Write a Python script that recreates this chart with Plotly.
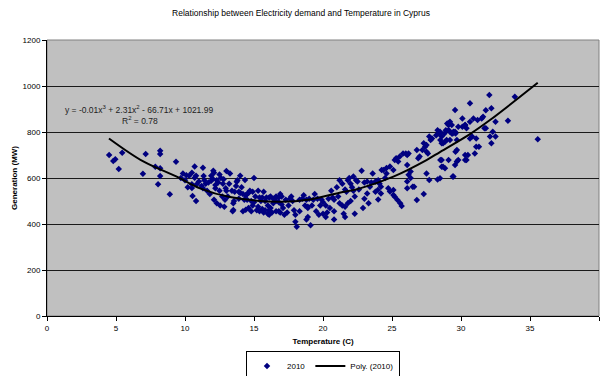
import plotly.graph_objects as go

# Scatter data (temperature in C, generation in MW)
temp_c = [
    4.5, 4.8, 4.95, 5.2, 5.45, 6.95, 7.15, 7.85, 8.2, 8.2, 8.2, 8.2, 8.05, 8.9, 9.35,
    9.85, 10.1, 10.3, 10.5, 10.7, 10.8, 10.5, 10.5, 10.55, 10.7, 10.85, 10.8, 11.3, 11.35, 11.2,
    11.3, 12.05, 12.1, 12.0, 11.5, 11.7, 11.9, 12.2, 12.3, 11.8, 12.1, 12.3, 12.55, 12.85, 12.4,
    12.6, 12.75, 12.95, 13.0, 11.0, 11.6, 12.5, 12.7, 12.2, 12.9, 11.4, 10.2, 10.0, 9.7, 11.9,
    12.5, 12.8,
    13.26, 13.75, 13.8, 14.35, 13.4, 13.6, 13.9, 14.0, 14.2, 13.5, 13.55, 13.5, 13.45, 14.5, 14.6,
    14.7, 14.4, 14.2, 14.4, 14.6, 14.8, 14.9, 15.1, 15.4, 15.6, 15.7, 15.9, 16.1, 16.2, 16.4,
    16.6, 16.8, 17.0, 15.2, 15.3, 15.4, 15.6, 15.7, 15.8, 16.0, 16.1, 16.2, 16.0, 16.1, 16.3,
    16.6, 16.8, 16.9, 17.2, 16.6, 16.8, 17.0, 13.2, 13.7, 14.1, 14.5, 14.8, 15.0, 15.5, 13.9,
    14.3, 13.1, 13.0, 14.9, 15.3, 15.8, 16.4, 16.9, 15.0, 14.0,
    18.1, 18.3, 18.5, 18.8, 19.0, 19.3, 18.7, 18.9, 19.2, 18.9, 18.8, 18.9, 19.6, 19.9, 20.0,
    19.8, 20.2, 20.4, 20.7, 20.8, 20.0, 20.3, 20.2, 20.8, 20.8, 21.6, 21.5, 22.3, 17.3, 17.6,
    17.8, 17.5, 17.9, 18.0, 17.4, 18.3, 19.5, 19.7, 20.5, 17.7, 18.6, 19.4, 20.6, 17.1, 19.1,
    18.0,
    21.0, 21.2, 21.4, 21.6, 21.7, 21.8, 21.9, 22.0, 22.1, 22.2, 22.3, 22.4, 22.5, 22.2, 21.2,
    21.4, 21.6, 21.8, 22.0, 22.8, 23.0, 23.2, 23.5, 23.8, 24.0, 24.1, 23.2, 23.4, 23.6, 23.97,
    24.2, 24.37, 24.6, 24.0, 24.2, 24.73, 24.85, 25.1, 25.1, 25.2, 25.4, 25.6, 25.7, 22.6, 23.0,
    22.9, 23.3, 21.1, 24.5, 23.8,
    24.25, 24.6, 24.85, 25.1, 25.2, 25.3, 25.45, 25.56, 25.8, 26.0, 26.1, 26.2, 26.1, 26.2, 26.35,
    26.5, 26.6, 26.1, 26.35, 26.1, 26.8, 27.3, 26.8, 26.9, 27.0, 27.2, 27.3, 27.4, 27.5, 27.5,
    27.6, 27.7, 27.8, 27.9, 28.2, 28.3, 28.4, 28.5, 28.6, 28.8, 28.9, 29.0, 29.1, 29.2, 29.4,
    29.6, 29.8, 30.1, 30.3, 27.5, 27.7, 28.3, 28.5, 28.6, 29.1, 29.4, 29.6, 29.7, 30.3, 30.3,
    28.48, 28.6, 28.7, 28.84, 28.96, 29.1, 29.2, 29.33, 29.45, 29.57, 29.7, 29.1, 29.2, 29.33, 29.7,
    29.8, 29.57, 30.4, 30.5, 31.0, 31.1, 28.6, 28.7, 28.84, 29.45, 28.48, 30.1, 30.3, 30.4, 30.65,
    30.9, 31.2, 31.5, 31.6, 31.8, 32.2, 32.5, 33.4, 30.65, 30.8, 31.1, 31.7, 31.8, 32.1, 32.3,
    32.5, 32.2, 31.3, 29.57, 30.65, 32.05, 33.9, 35.56,
]
gen_mw = [
    700, 674, 681, 639, 710, 619, 704, 649, 719, 704, 642, 609, 573, 529, 671,
    620, 612, 610, 623, 650, 610, 573, 556, 522, 601, 573, 500, 645, 609, 565,
    555, 632, 623, 597, 575, 580, 588, 570, 590, 530, 505, 490, 480, 475, 580,
    600, 575, 555, 630, 585, 545, 545, 520, 555, 505, 590, 560, 590, 600, 610,
    615, 595,
    620, 584, 590, 591, 545, 540, 540, 535, 530, 490, 500, 461, 455, 530, 535,
    545, 525, 455, 462, 470, 455, 480, 520, 515, 515, 540, 515, 515, 520, 510,
    520, 515, 520, 460, 475, 455, 465, 450, 460, 480, 460, 470, 445, 440, 450,
    455, 455, 450, 440, 500, 495, 485, 575, 565, 560, 505, 500, 495, 500, 510,
    505, 520, 545, 540, 545, 500, 490, 530, 600, 610,
    388, 505, 510, 505, 510, 505, 480, 475, 480, 470, 420, 430, 510, 505, 495,
    480, 480, 510, 515, 505, 445, 450, 430, 455, 420, 430, 445, 445, 505, 510,
    500, 480, 460, 440, 450, 455, 455, 440, 470, 520, 525, 530, 545, 470, 395,
    410,
    560, 590, 575, 550, 540, 590, 600, 575, 560, 545, 520, 590, 585, 606, 490,
    480, 475, 490, 500, 632, 580, 585, 580, 585, 590, 575, 533, 562, 620, 548,
    562, 635, 620, 507, 533, 555, 541, 548, 526, 519, 504, 490, 478, 550, 510,
    470, 490, 520, 600, 540,
    635, 643, 650, 635, 678, 686, 672, 693, 707, 707, 700, 707, 657, 614, 628,
    562, 562, 585, 600, 555, 504, 530, 722, 686, 693, 722, 751, 736, 743, 714,
    707, 780, 765, 772, 786, 808, 794, 765, 751, 794, 808, 837, 830, 765, 794,
    794, 823, 823, 830, 620, 591, 594, 678, 649, 678, 606, 714, 672, 700, 678,
    801, 780, 751, 758, 765, 809, 801, 794, 801, 801, 765, 837, 845, 830, 722,
    678, 656, 678, 700, 707, 736, 678, 649, 642, 606, 599, 859, 830, 816, 845,
    859, 852, 859, 866, 895, 903, 845, 849, 772, 780, 772, 816, 816, 780, 801,
    780, 751, 736, 896, 925, 961, 953, 768,
]

# Polynomial trend line, sampled from the chart
trend_temp = [4.49, 6.98, 9.4, 11.09, 13.26, 16.88, 19.06, 21.2, 22.68, 25.1, 27.5, 28.5, 30.65, 32.1, 35.56]
trend_mw = [772, 672, 606, 555, 517, 497, 507, 536, 555, 606, 678, 714, 791, 852, 1014]

x_ticks = [0, 5, 10, 15, 20, 25, 30, 35, 40]
y_ticks = [0, 200, 400, 600, 800, 1000, 1200]

title_text = "Relationship between Electricity demand and Temperature in Cyprus"
eq_text = "y = -0.01x<sup>3</sup> + 2.31x<sup>2</sup> - 66.71x + 1021.99"
r2_text = "R<sup>2</sup> = 0.78"

FONT = "Liberation Sans, Arial, sans-serif"

fig = go.Figure()
fig.add_trace(go.Scatter(
    x=temp_c, y=gen_mw, mode="markers", name="2010",
    marker=dict(symbol="diamond", size=5, color="#000080", line=dict(width=0)),
))
fig.add_trace(go.Scatter(
    x=trend_temp, y=trend_mw, mode="lines", name="Poly. (2010)",
    line=dict(color="black", width=2, shape="spline"),
))

fig.add_annotation(x=6.67, y=900, xref="x", yref="y", text=eq_text, showarrow=False,
                   font=dict(family=FONT, size=8.5, color="#222222"))
fig.add_annotation(x=6.75, y=850, xref="x", yref="y", text=r2_text, showarrow=False,
                   font=dict(family=FONT, size=8.5, color="#222222"))

fig.add_shape(type="rect", xref="paper", yref="paper", x0=0, x1=1, y0=0, y1=1,
              line=dict(color="#808080", width=1), layer="below")

fig.update_layout(
    width=602, height=376,
    margin=dict(l=47, r=3, t=40, b=60, autoexpand=False),
    paper_bgcolor="white", plot_bgcolor="#C0C0C0",
    font=dict(family=FONT, size=8, color="black"),
    title=dict(text=title_text, x=0.5, xanchor="center", y=1 - 13 / 376, yanchor="middle",
               font=dict(family=FONT, size=8.5, color="black")),
    showlegend=True,
    legend=dict(orientation="h", x=0.5, xanchor="center", y=-0.125, yanchor="top",
                bgcolor="white", bordercolor="black", borderwidth=1,
                font=dict(family=FONT, size=8), itemwidth=30, tracegroupgap=0),
    xaxis=dict(range=[0, 40], tickvals=x_ticks, showgrid=False, zeroline=False, automargin=False,
               showline=True, linecolor="black", linewidth=1, ticks="outside", ticklen=4,
               tickcolor="black", tickfont=dict(size=8),
               title=dict(text="<b>Temperature (C)</b>", standoff=6, font=dict(size=8))),
    yaxis=dict(range=[0, 1200], tickvals=y_ticks, showgrid=True, gridcolor="#1a1a1a", gridwidth=1,
               zeroline=False, showline=True, linecolor="black", linewidth=1, automargin=False,
               ticks="outside", ticklen=4, tickcolor="black", tickfont=dict(size=8),
               title=dict(text="<b>Generation (MW)</b>", standoff=3, font=dict(size=8))),
)

fig.write_html("out.html", config={"displayModeBar": False},
               post_script="document.body.style.margin='0px';")
